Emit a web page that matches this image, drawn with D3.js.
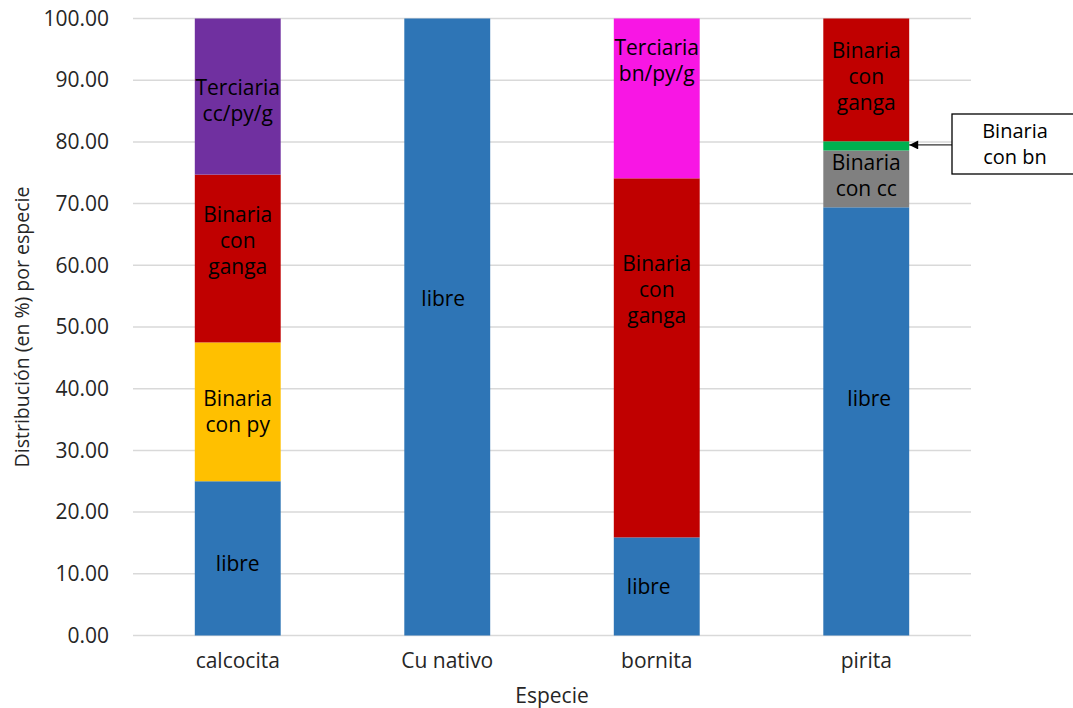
<!DOCTYPE html>
<html>
<head>
<meta charset="utf-8">
<script src="https://cdn.jsdelivr.net/npm/d3@7"></script>
<style>
  html, body { margin: 0; padding: 0; background: #fff; }
  svg { display: block; font-family: "Open Sans", sans-serif; }
</style>
</head>
<body>
<svg id="chart" width="1073" height="708"></svg>
<script>
// Mineral species on the x axis
const categories = ["calcocita", "Cu nativo", "bornita", "pirita"];

// Association classes, stacked bottom to top
const seriesKeys = ["libre", "conPy", "conCc", "conBn", "conGanga", "tercCc", "tercBn"];
const seriesNames = ["libre", "Binaria\ncon py", "Binaria\ncon cc", "Binaria\ncon bn",
                     "Binaria\ncon\nganga", "Terciaria\ncc/py/g", "Terciaria\nbn/py/g"];

// Distribution (%) per species, one array per class, in category order
const libre    = [25.0, 100.0, 15.9, 69.4];
const conPy    = [22.5,   0.0,  0.0,  0.0];
const conCc    = [ 0.0,   0.0,  0.0,  9.2];
const conBn    = [ 0.0,   0.0,  0.0,  1.5];
const conGanga = [27.2,   0.0, 58.2, 19.9];
const tercCc   = [25.3,   0.0,  0.0,  0.0];
const tercBn   = [ 0.0,   0.0, 25.9,  0.0];

const yTicks = [0, 10, 20, 30, 40, 50, 60, 70, 80, 90, 100];

const colors = {
  libre: "#2E75B6", conPy: "#FFC000", conCc: "#808080", conBn: "#00B050",
  conGanga: "#C00000", tercCc: "#7030A0", tercBn: "#F816E4"
};

// Hand placement of in-bar labels (pixel nudges from segment centre)
const labelNudge = {
  "Cu nativo|libre": [-4, -28],
  "calcocita|conGanga": [0, -18],
  "calcocita|tercCc": [0, 4],
  "calcocita|libre": [0, 5],
  "bornita|tercBn": [0, -38],
  "bornita|conGanga": [0, -68],
  "bornita|libre": [-8, 0],
  "pirita|libre": [3, -23],
  "pirita|conGanga": [0, -3],
  "pirita|conCc": [0, -3]
};

const rows = categories.map((c, i) => {
  const r = { cat: c };
  r.libre = libre[i]; r.conPy = conPy[i]; r.conCc = conCc[i]; r.conBn = conBn[i];
  r.conGanga = conGanga[i]; r.tercCc = tercCc[i]; r.tercBn = tercBn[i];
  return r;
});

const FS = 21;
const svg = d3.select("#chart");
const plot = { left: 133, right: 971, top: 18.5, bottom: 635.5 };

const x = d3.scaleBand().domain(categories)
  .range([plot.left, plot.right]).paddingInner(0.59).paddingOuter(0.295);
const y = d3.scaleLinear().domain([0, 100]).range([plot.bottom, plot.top]);

// Gridlines
svg.append("g").selectAll("line").data(yTicks).join("line")
  .attr("x1", plot.left).attr("x2", plot.right)
  .attr("y1", d => y(d)).attr("y2", d => y(d))
  .attr("stroke", "#D9D9D9").attr("stroke-width", 1.5);

// Y axis labels
const yAxis = svg.append("g").attr("transform", `translate(${plot.left - 24},0)`)
  .call(d3.axisLeft(y).tickValues(yTicks).tickFormat(d3.format(".2f")).tickSize(0).tickPadding(0));
yAxis.select(".domain").remove();
yAxis.selectAll("text").attr("font-size", FS).attr("fill", "#262626")
  .attr("font-family", "'Open Sans', sans-serif");

// X axis labels
const xAxis = svg.append("g").attr("transform", `translate(0,${plot.bottom + 17})`)
  .call(d3.axisBottom(x).tickSize(0).tickPadding(0));
xAxis.select(".domain").remove();
xAxis.selectAll("text").attr("font-size", FS).attr("fill", "#262626")
  .attr("dy", "0.72em").attr("font-family", "'Open Sans', sans-serif");

// Stacked bars
const stacked = d3.stack().keys(seriesKeys)(rows);
const layers = svg.append("g").selectAll("g").data(stacked).join("g")
  .attr("fill", d => colors[d.key]);
layers.selectAll("rect").data(d => d.filter(p => p[1] - p[0] > 0)).join("rect")
  .attr("x", d => x(d.data.cat))
  .attr("width", x.bandwidth())
  .attr("y", d => y(d[1]))
  .attr("height", d => y(d[0]) - y(d[1]));

// In-bar labels
const lineH = 26;
stacked.forEach((layer, li) => {
  if (layer.key === "conBn") return;
  layer.forEach(p => {
    if (p[1] - p[0] <= 0) return;
    const cat = p.data.cat;
    const nudge = labelNudge[cat + "|" + layer.key] || [0, 0];
    const lines = seriesNames[li].split("\n");
    const cx = x(cat) + x.bandwidth() / 2 + nudge[0];
    const cy = y((p[0] + p[1]) / 2) + nudge[1];
    const t = svg.append("text").attr("text-anchor", "middle")
      .attr("font-size", FS).attr("fill", "#000");
    lines.forEach((ln, k) => {
      t.append("tspan").attr("x", cx)
        .attr("y", cy + (k - (lines.length - 1) / 2) * lineH)
        .attr("dy", "0.35em").text(ln);
    });
  });
});

// Callout for the thin "Binaria con bn" segment
const bnIdx = seriesKeys.indexOf("conBn");
const bnPoint = stacked[bnIdx][categories.indexOf("pirita")];
const bnY = y((bnPoint[0] + bnPoint[1]) / 2);
const barRight = x("pirita") + x.bandwidth();
const boxX = 952, boxTop = 114, boxBottom = 174;

svg.append("defs").append("marker")
  .attr("id", "arrowHead").attr("viewBox", "0 0 10 10")
  .attr("refX", 10).attr("refY", 5)
  .attr("markerWidth", 12).attr("markerHeight", 9)
  .attr("markerUnits", "userSpaceOnUse").attr("orient", "auto")
  .append("path").attr("d", "M0,0L10,5L0,10Z").attr("fill", "#000");

svg.append("line")
  .attr("x1", boxX).attr("y1", bnY - 1).attr("x2", barRight).attr("y2", bnY - 1)
  .attr("stroke", "#000").attr("stroke-width", 1)
  .attr("marker-end", "url(#arrowHead)");

svg.append("rect")
  .attr("x", boxX).attr("y", boxTop).attr("width", 140).attr("height", boxBottom - boxTop)
  .attr("fill", "#fff").attr("stroke", "#000").attr("stroke-width", 1.3);

seriesNames[bnIdx].split("\n").forEach((ln, k) => {
  svg.append("text").attr("text-anchor", "middle")
    .attr("font-size", 20).attr("fill", "#000")
    .attr("x", 1015)
    .attr("y", (boxTop + boxBottom) / 2 + (k - 0.5) * 26).attr("dy", "0.35em").text(ln);
});

// Axis titles
svg.append("text").attr("x", (plot.left + plot.right) / 2).attr("y", 696)
  .attr("text-anchor", "middle").attr("dy", "0.35em")
  .attr("font-size", FS).attr("fill", "#262626").text("Especie");

svg.append("text")
  .attr("transform", `translate(22,${(plot.top + plot.bottom) / 2}) rotate(-90)`)
  .attr("text-anchor", "middle").attr("dy", "0.35em")
  .attr("font-size", 19.5).attr("fill", "#262626").text("Distribución (en %) por especie");
</script>
</body>
</html>
